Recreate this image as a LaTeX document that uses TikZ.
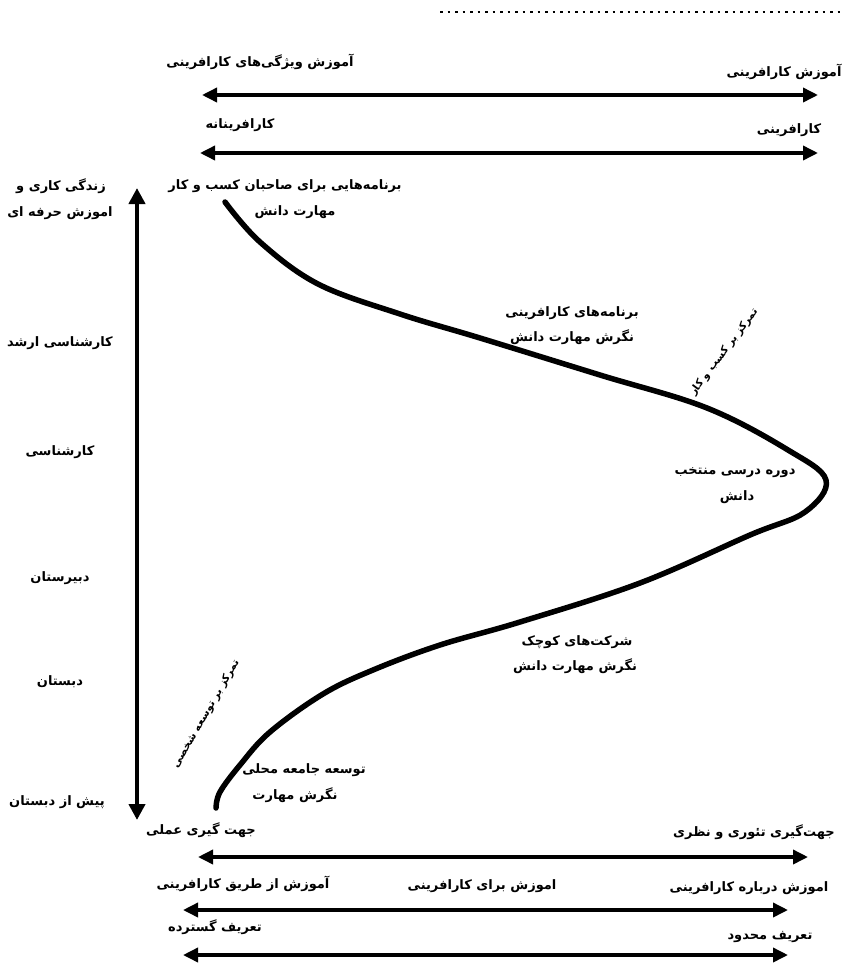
\documentclass[tikz,border=0pt]{standalone}
\usepackage{fontspec}
\newfontfamily\farsi[Script=Arabic]{DejaVu Sans}
\TeXXeTstate=1
\usetikzlibrary{arrows.meta}
\newcommand{\fa}[1]{{\farsi\bfseries\beginR #1\endR}}
\begin{document}
\begin{tikzpicture}[
  x=1pt, y=-1pt,
  lbl/.style={inner sep=0pt, font=\fontsize{13}{15}\selectfont},
  focus/.style={inner sep=0pt, font=\fontsize{10.5}{12}\selectfont},
  spanarrow/.style={line width=3.5pt, {Triangle[length=15pt,width=14pt]}-{Triangle[length=15pt,width=14pt]}}
]
  \useasboundingbox (0,0) rectangle (843,964);

  % Dotted rule at the top
  \coordinate (dotw) at (440,12);
  \coordinate (dote) at (840,12);
  \draw[line width=2pt, dash pattern=on 2.5pt off 5pt] (dotw) -- (dote);

  % Upper spans
  \node[lbl] (t1) at (260,62) {\fa{آموزش ویژگی‌های کارافرینی}};
  \node[lbl] (t2) at (784,72) {\fa{آموزش کارافرینی}};
  \coordinate (a1w) at (202,95);
  \coordinate (a1e) at (818,95);
  \draw[spanarrow] (a1w) -- (a1e);

  \node[lbl] (t3) at (240,125) {\fa{کارافرینانه}};
  \node[lbl] (t4) at (789,130) {\fa{کارافرینی}};
  \coordinate (a2w) at (200,153);
  \coordinate (a2e) at (818,153);
  \draw[spanarrow] (a2w) -- (a2e);

  % Level axis
  \coordinate (vtop) at (137,188);
  \coordinate (vbot) at (137,820);
  \draw[line width=4.5pt, {Triangle[length=16pt,width=16pt]}-{Triangle[length=16pt,width=16pt]}] (vbot) -- (vtop);

  \node[lbl] (lv1) at (61,186) {\fa{زندگی کاری و}};
  \node[lbl] (lv1b) at (60,213) {\fa{اموزش حرفه ای}};
  \node[lbl] (lv2) at (60,343) {\fa{کارشناسی ارشد}};
  \node[lbl] (lv3) at (60,452) {\fa{کارشناسی}};
  \node[lbl] (lv4) at (60,578) {\fa{دبیرستان}};
  \node[lbl] (lv5) at (60,682) {\fa{دبستان}};
  \node[lbl] (lv6) at (57,802) {\fa{پیش از دبستان}};

  % S curve
  \draw[line width=5.5pt, line cap=round] plot[smooth, tension=0.6] coordinates {
    (225,202) (260,242) (318,284) (400,314) (480,338) (600,375) (707,408)
    (788,450) (826,480) (805,512) (750,535) (640,583) (520,622) (440,645)
    (373,670) (323,694) (270,732) (240,765) (220,792) (216,808)};

  % Curve labels
  \node[lbl] (c1) at (285,186) {\fa{برنامه‌هایی برای صاحبان کسب و کار}};
  \node[lbl] (c1b) at (295,212) {\fa{مهارت دانش}};
  \node[lbl] (c2) at (572,313) {\fa{برنامه‌های کارافرینی}};
  \node[lbl] (c2b) at (572,337) {\fa{نگرش مهارت دانش}};
  \node[focus, rotate=53] (f1) at (724,352) {\fa{تمرکز بر کسب و کار}};
  \node[lbl] (c3) at (735,473) {\fa{دوره درسی منتخب}};
  \node[lbl] (c3b) at (737,497) {\fa{دانش}};
  \node[lbl] (c4) at (577,642) {\fa{شرکت‌های کوچک}};
  \node[lbl] (c4b) at (575,666) {\fa{نگرش مهارت دانش}};
  \node[focus, rotate=60] (f2) at (206,714) {\fa{تمرکز بر توسعه شخصی}};
  \node[lbl] (c5) at (304,770) {\fa{توسعه جامعه محلی}};
  \node[lbl] (c5b) at (295,795) {\fa{نگرش مهارت}};

  % Lower spans
  \node[lbl] (b1) at (201,830) {\fa{جهت گیری عملی}};
  \node[lbl] (b2) at (754,832) {\fa{جهت‌گیری تئوری و نظری}};
  \coordinate (a3w) at (198,857);
  \coordinate (a3e) at (808,857);
  \draw[spanarrow] (a3w) -- (a3e);

  \node[lbl] (b3) at (243,884) {\fa{آموزش از طریق کارافرینی}};
  \node[lbl] (b4) at (482,886) {\fa{اموزش برای کارافرینی}};
  \node[lbl] (b5) at (749,888) {\fa{اموزش درباره کارافرینی}};
  \coordinate (a4w) at (183,910);
  \coordinate (a4e) at (788,910);
  \draw[spanarrow] (a4w) -- (a4e);

  \node[lbl] (b6) at (215,927) {\fa{تعریف گسترده}};
  \node[lbl] (b7) at (770,937) {\fa{تعریف محدود}};
  \coordinate (a5w) at (183,955);
  \coordinate (a5e) at (788,955);
  \draw[spanarrow] (a5w) -- (a5e);
\end{tikzpicture}
\end{document}
